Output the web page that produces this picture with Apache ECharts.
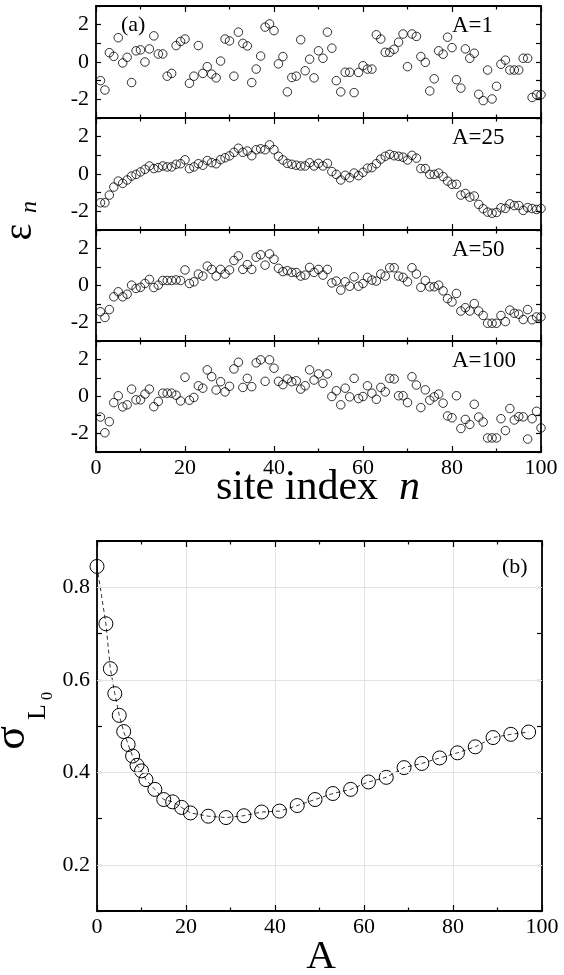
<!DOCTYPE html>
<html>
<head>
<meta charset="utf-8">
<script src="https://cdn.jsdelivr.net/npm/echarts@6/dist/echarts.min.js"></script>
<style>
  html, body { margin: 0; padding: 0; background: #fff; }
  #chart { width: 564px; height: 975px; }
</style>
</head>
<body>
<div id="chart"></div>
<script>
// site index n = 1..100 (x position of each point in panel a)
const siteIndex = Array.from({ length: 100 }, (_, i) => i + 1);

// on-site energies eps_n (a)
const epsA1 = [
  -1.0, -1.5, 0.5, 0.3, 1.3, -0.05, 0.25, -1.1, 0.6, 0.65,
  0.0, 0.7, 1.4, 0.43, 0.43, -0.76, -0.61, 0.88, 1.1, 1.23,
  -1.14, -0.76, 0.88, -0.61, -0.25, -0.65, -0.85, 0.05, 1.23, 1.13,
  -0.76, 1.6, 1.0, 0.86, -1.1, -0.38, 0.32, 1.87, 2.04, 1.68,
  -0.1, 0.29, -1.6, -0.83, -0.76, 1.19, -0.47, 0.15, -0.85, 0.6,
  0.2, 1.6, 0.74, -1.0, -1.6, -0.55, -0.55, -1.64, -0.56, -0.2,
  -0.38, -0.38, 1.46, 1.23, 0.52, 0.52, 0.68, 1.06, 1.5, -0.25,
  1.5, 1.37, 0.29, -0.02, -1.55, -0.9, 0.6, 0.42, 1.33, 0.77,
  -0.95, -1.4, 0.7, 0.2, 0.47, -1.73, -2.07, -0.43, -1.98, -1.3,
  -0.12, 0.1, -0.43, -0.43, -0.43, 0.2, 0.2, -1.9, -1.75, -1.75
];
const epsA25 = [
  -1.54, -1.54, -1.13, -0.7, -0.38, -0.5, -0.32, -0.11, -0.02, 0.11,
  0.25, 0.43, 0.29, 0.34, 0.43, 0.38, 0.38, 0.52, 0.55, 0.76,
  0.29, 0.38, 0.55, 0.47, 0.72, 0.61, 0.55, 0.77, 0.87, 0.97,
  1.16, 1.38, 1.16, 1.23, 0.98, 1.3, 1.35, 1.3, 1.56, 1.3,
  0.95, 0.75, 0.57, 0.52, 0.47, 0.43, 0.43, 0.6, 0.43, 0.57,
  0.43, 0.57, 0.13, -0.02, -0.32, -0.07, -0.2, 0.05, -0.09, 0.09,
  0.31, 0.34, 0.55, 0.8, 0.95, 1.05, 0.98, 0.95, 0.9, 0.75,
  1.0, 0.85, 0.29, 0.29, -0.02, -0.02, 0.05, -0.14, -0.38, -0.55,
  -0.55, -1.13, -1.04, -1.24, -1.18, -1.63, -1.86, -2.04, -2.1, -2.06,
  -1.81, -1.84, -1.6, -1.69, -1.69, -1.95, -1.8, -1.85, -1.9, -1.85
];
const epsA50 = [
  -1.42, -1.73, -1.3, -0.61, -0.34, -0.61, -0.47, 0.02, -0.16, -0.1,
  0.11, 0.33, -0.11, 0.02, 0.27, 0.27, 0.27, 0.3, 0.27, 0.84,
  0.11, 0.2, 0.62, 0.51, 1.05, 0.87, 0.51, 0.87, 0.62, 0.84,
  1.35, 1.6, 0.87, 1.13, 0.87, 1.53, 1.66, 1.1, 1.71, 1.42,
  0.93, 0.75, 0.8, 0.71, 0.7, 0.51, 0.56, 0.98, 0.71, 0.87,
  0.56, 0.87, 0.14, 0.24, -0.25, 0.2, -0.04, 0.47, -0.04, 0.11,
  0.44, 0.29, 0.24, 0.62, 0.51, 0.96, 0.96, 0.51, 0.44, 0.2,
  0.96, 0.62, -0.1, 0.27, -0.07, -0.07, 0.02, -0.29, -0.71, -0.89,
  -0.43, -1.38, -1.2, -1.38, -0.98, -1.38, -1.62, -2.04, -2.04, -2.04,
  -1.62, -1.95, -1.33, -1.5, -1.55, -1.84, -1.3, -1.85, -1.7, -1.7
];
const epsA100 = [
  -1.11, -1.96, -1.36, -0.33, 0.04, -0.56, -0.45, 0.4, -0.18, -0.18,
  0.13, 0.4, -0.55, -0.27, 0.18, 0.18, 0.18, 0.07, -0.24, 1.04,
  -0.2, -0.05, 0.58, 0.45, 1.44, 1.07, 0.35, 0.8, 0.25, 0.55,
  1.49, 1.85, 0.49, 0.98, 0.53, 1.82, 1.98, 0.82, 1.98, 1.53,
  0.82, 0.64, 0.95, 0.8, 0.85, 0.4, 0.58, 1.44, 0.89, 1.22,
  0.71, 1.22, 0.0, 0.31, -0.45, 0.45, -0.02, 0.98, -0.11, 0.0,
  0.58, 0.18, -0.15, 0.49, 0.25, 0.98, 0.95, 0.04, 0.04, -0.33,
  1.07, 0.62, -0.6, 0.36, -0.2, -0.02, 0.13, -0.36, -1.05, -1.15,
  0.04, -1.73, -1.24, -1.51, -0.42, -1.11, -1.38, -2.24, -2.24, -2.24,
  -1.2, -1.84, -0.65, -1.27, -1.09, -1.1, -2.3, -1.2, -0.8, -1.7
];
const panelSeries = [epsA1, epsA25, epsA50, epsA100];
const panelLabels = ['A=1', 'A=25', 'A=50', 'A=100'];
const epsTicks = [-2, 0, 2];
const siteTicks = [0, 20, 40, 60, 80, 100];

// panel (b): sigma_L0 versus A
const aValues = [0, 2, 3, 4, 5, 6, 7, 8, 9, 10, 11, 13, 15, 17, 19, 21, 25, 29, 33, 37,
  41, 45, 49, 53, 57, 61, 65, 69, 73, 77, 81, 85, 89, 93, 97];
const sigmaValues = [0.845, 0.721, 0.624, 0.57, 0.523, 0.488, 0.46, 0.435, 0.415, 0.403,
  0.384, 0.363, 0.341, 0.336, 0.324, 0.312, 0.305, 0.302, 0.306, 0.314,
  0.316, 0.328, 0.341, 0.354, 0.363, 0.379, 0.389, 0.41, 0.419, 0.431,
  0.442, 0.455, 0.475, 0.482, 0.487];
const sigmaTicks = [0.2, 0.4, 0.6, 0.8];
const aTicks = [0, 20, 40, 60, 80, 100];

const FONT = '"Liberation Serif", "Times New Roman", serif';
const chart = echarts.init(document.getElementById('chart'));

const panelTops = [6, 118, 230, 341];
const panelHeights = [112, 112, 111, 111];
const PLOT_LEFT = 96, PLOT_W = 445;

const axisLine = { show: true, onZero: false, lineStyle: { color: '#000', width: 1.8 } };
const tickStyle = { color: '#000', width: 1.2 };

function xAxisFor(gi, pos, showLabels, ticks, grid) {
  return {
    type: 'value', gridIndex: gi, position: pos, min: 0, max: 100, interval: 20,
    axisLine: axisLine,
    axisTick: { show: true, inside: true, length: 6, lineStyle: tickStyle },
    minorTick: { show: true, splitNumber: 2, length: 3.5, lineStyle: tickStyle },
    axisLabel: {
      show: showLabels, color: '#000', fontSize: 22, fontFamily: FONT, margin: 5,
      formatter: v => ticks.includes(v) ? String(v) : ''
    },
    splitLine: { show: !!grid, lineStyle: { color: '#e4e4e4', width: 1 } }
  };
}

function yAxisFor(gi, pos, showLabels, min, max, interval, fmt) {
  return {
    type: 'value', gridIndex: gi, position: pos, min: min, max: max, interval: interval,
    axisLine: axisLine,
    axisTick: { show: true, inside: true, length: 5, lineStyle: tickStyle },
    axisLabel: { show: showLabels, color: '#000', fontSize: 22, fontFamily: FONT, margin: 7, formatter: fmt },
    splitLine: { show: false }
  };
}

const epsFmt = v => epsTicks.includes(Math.round(v)) && Math.abs(v - Math.round(v)) < 1e-6 ? String(Math.round(v)) : '';
const sigFmt = v => {
  const r = Math.round(v * 10) / 10;
  return sigmaTicks.some(t => Math.abs(t - r) < 1e-6) ? r.toFixed(1) : '';
};

const grids = [], xAxes = [], yAxes = [], series = [], graphics = [];

panelSeries.forEach((vals, gi) => {
  grids.push({ left: PLOT_LEFT, width: PLOT_W, top: panelTops[gi], height: panelHeights[gi] });
  xAxes.push(xAxisFor(gi, 'bottom', gi === 3, siteTicks, false));
  xAxes.push(xAxisFor(gi, 'top', false, siteTicks, false));
  yAxes.push(yAxisFor(gi, 'left', true, -3, 3, 1, epsFmt));
  yAxes.push(yAxisFor(gi, 'right', false, -3, 3, 1, epsFmt));
  series.push({
    type: 'scatter', xAxisIndex: gi * 2, yAxisIndex: gi * 2,
    data: siteIndex.map((n, i) => [n, vals[i]]),
    symbol: 'circle', symbolSize: 8.5,
    itemStyle: { color: 'rgba(0,0,0,0)', borderColor: '#000', borderWidth: 1 },
    clip: false, silent: true
  });
  graphics.push({
    type: 'text', left: 452, top: panelTops[gi] + 8,
    style: { text: panelLabels[gi], font: '23px ' + FONT, fill: '#000' }
  });
});

// panel (b)
grids.push({ left: 97, width: 445, top: 541, height: 370 });
xAxes.push(xAxisFor(4, 'bottom', true, aTicks, true));
xAxes.push(xAxisFor(4, 'top', false, aTicks, false));
yAxes.push(yAxisFor(4, 'left', true, 0.1, 0.9, 0.1, sigFmt));
yAxes.push(yAxisFor(4, 'right', false, 0.1, 0.9, 0.1, sigFmt));
series.push({
  type: 'line', xAxisIndex: 8, yAxisIndex: 8, data: [], z: 1, silent: true,
  markLine: {
    silent: true, symbol: ['none', 'none'], label: { show: false }, animation: false,
    lineStyle: { color: '#e4e4e4', type: 'solid', width: 1 },
    data: sigmaTicks.map(v => ({ yAxis: v }))
  }
});
series.push({
  type: 'line', xAxisIndex: 8, yAxisIndex: 8, z: 3,
  data: aValues.map((a, i) => [a, sigmaValues[i]]),
  symbol: 'circle', symbolSize: 14, showAllSymbol: true, clip: false,
  lineStyle: { color: '#000', width: 0.8, type: [4, 3] },
  itemStyle: { color: 'rgba(0,0,0,0)', borderColor: '#000', borderWidth: 1 }
});

// panel tags and axis titles
graphics.push({ type: 'text', left: 121, top: 14, style: { text: '(a)', font: '22px ' + FONT, fill: '#000' } });
graphics.push({ type: 'text', left: 502, top: 556, style: { text: '(b)', font: '22px ' + FONT, fill: '#000' } });
graphics.push({
  type: 'text', x: 318, y: 488,
  style: {
    text: '{a|site index  }{b|n}', align: 'center', verticalAlign: 'middle',
    rich: { a: { font: '42px ' + FONT, fill: '#000' }, b: { font: 'italic 42px ' + FONT, fill: '#000' } }
  }
});
graphics.push({ type: 'text', x: 20, y: 232, rotation: Math.PI / 2,
  style: { text: 'ε', font: '40px ' + FONT, fill: '#000', align: 'center', verticalAlign: 'middle' } });
graphics.push({ type: 'text', x: 30, y: 207, rotation: Math.PI / 2,
  style: { text: 'n', font: 'italic 24px ' + FONT, fill: '#000', align: 'center', verticalAlign: 'middle' } });
graphics.push({ type: 'text', x: 12, y: 738, rotation: Math.PI / 2,
  style: { text: 'σ', font: '44px ' + FONT, fill: '#000', align: 'center', verticalAlign: 'middle' } });
graphics.push({ type: 'text', x: 38, y: 712, rotation: Math.PI / 2,
  style: { text: 'L', font: '26px ' + FONT, fill: '#000', align: 'center', verticalAlign: 'middle' } });
graphics.push({ type: 'text', x: 48, y: 696, rotation: Math.PI / 2,
  style: { text: '0', font: '16px ' + FONT, fill: '#000', align: 'center', verticalAlign: 'middle' } });
graphics.push({ type: 'text', x: 321, y: 957,
  style: { text: 'A', font: '41px ' + FONT, fill: '#000', align: 'center', verticalAlign: 'middle' } });

chart.setOption({
  animation: false,
  backgroundColor: '#fff',
  grid: grids,
  xAxis: xAxes,
  yAxis: yAxes,
  series: series,
  graphic: graphics
});
</script>
</body>
</html>
